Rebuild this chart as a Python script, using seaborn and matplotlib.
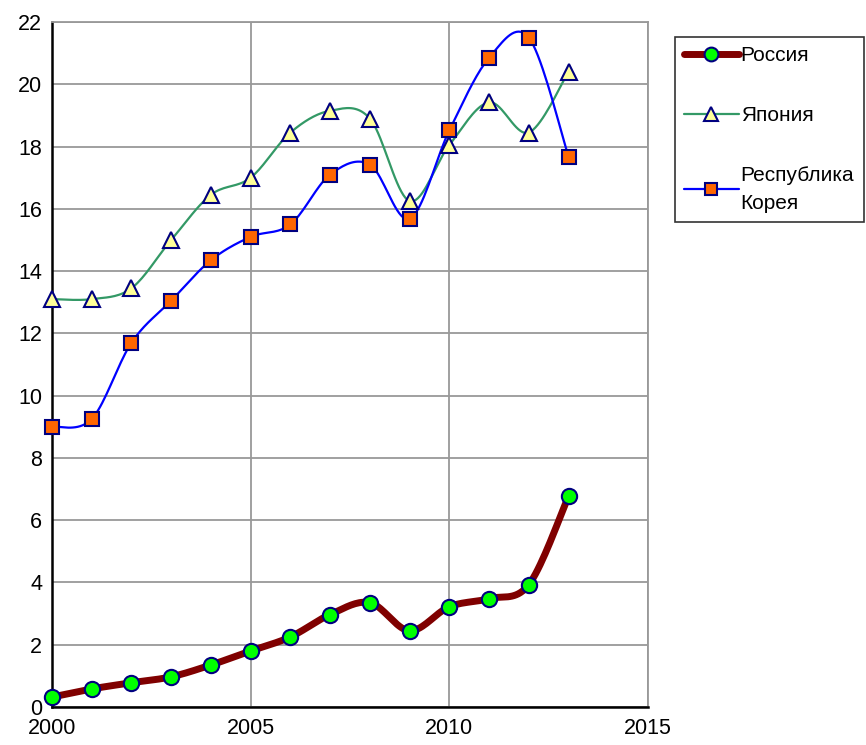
import numpy as np
import matplotlib
matplotlib.use("Agg")
import matplotlib.pyplot as plt
from matplotlib.lines import Line2D
import seaborn as sns

# data
years = [2000, 2001, 2002, 2003, 2004, 2005, 2006, 2007, 2008, 2009, 2010, 2011, 2012, 2013]
russia = [0.32, 0.58, 0.78, 0.97, 1.35, 1.80, 2.25, 2.97, 3.35, 2.45, 3.22, 3.48, 3.93, 6.77]
japan = [13.1, 13.1, 13.45, 15.0, 16.45, 17.0, 18.45, 19.15, 18.9, 16.25, 18.05, 19.42, 18.45, 20.4]
korea = [9.0, 9.25, 11.7, 13.05, 14.35, 15.1, 15.5, 17.1, 17.42, 15.68, 18.52, 20.85, 21.5, 17.68]
labels = ["Россия", "Япония", "Республика\nКорея"]

styles = [
    dict(color="#800000", lw=5, marker="o", mfc="#00ff00", ms=11),
    dict(color="#339966", lw=1.6, marker="^", mfc="#ffff99", ms=11),
    dict(color="#0000ff", lw=1.6, marker="s", mfc="#ff6600", ms=10),
]
edge = "#000080"


def smooth(x, y, n=20):
    """Excel-style smoothed line (Catmull-Rom Bezier) for drawing only"""
    x = np.asarray(x, float)
    y = np.asarray(y, float)
    px = np.concatenate([[x[0]], x, [x[-1]]])
    py = np.concatenate([[y[0]], y, [y[-1]]])
    xs, ys = [], []
    t = np.linspace(0, 1, n)
    for i in range(1, len(px) - 2):
        p0 = np.array([px[i], py[i]])
        p3 = np.array([px[i + 1], py[i + 1]])
        c1 = p0 + (np.array([px[i + 1], py[i + 1]]) - np.array([px[i - 1], py[i - 1]])) / 6
        c2 = p3 - (np.array([px[i + 2], py[i + 2]]) - np.array([px[i], py[i]])) / 6
        pts = (((1 - t) ** 3)[:, None] * p0 + (3 * (1 - t) ** 2 * t)[:, None] * c1
               + (3 * (1 - t) * t ** 2)[:, None] * c2 + (t ** 3)[:, None] * p3)
        xs.extend(pts[:, 0])
        ys.extend(pts[:, 1])
    return np.array(xs), np.array(ys)


sns.set_style("whitegrid")
plt.rcParams['font.family'] = ['Liberation Sans', 'DejaVu Sans']

fig = plt.figure(figsize=(8.66, 7.45), dpi=100)
ax = fig.add_axes([52 / 866, 38 / 745, 596 / 866, 685 / 745])

for series, st in zip([russia, japan, korea], styles):
    sx, sy = smooth(years, series)
    sns.lineplot(x=sx, y=sy, ax=ax, color=st["color"], linewidth=st["lw"],
                 sort=False, estimator=None, zorder=2)
    ax.plot(years, series, linestyle="none", marker=st["marker"],
            markersize=st["ms"], markerfacecolor=st["mfc"],
            markeredgecolor=edge, markeredgewidth=1.5, zorder=3, clip_on=False)

ax.set_xlim(2000, 2015)
ax.set_ylim(0, 22)
ax.set_xticks([2000, 2005, 2010, 2015])
ax.set_yticks(range(0, 23, 2))
ax.grid(True, color="#999999", linewidth=1.3)
ax.tick_params(axis="both", labelsize=15.5, length=5, width=1.2, direction="out",
               color="black", labelcolor="black", pad=2)
ax.tick_params(axis="x", pad=3)
for side in ["left", "bottom"]:
    ax.spines[side].set_color("black")
    ax.spines[side].set_linewidth(1.8)
for side in ["top", "right"]:
    ax.spines[side].set_color("#999999")
    ax.spines[side].set_linewidth(1.3)

handles = [Line2D([], [], color=st["color"], lw=st["lw"], marker=st["marker"],
                  markersize=st["ms"] * 0.9, markerfacecolor=st["mfc"],
                  markeredgecolor=edge, markeredgewidth=1.5) for st in styles]
leg = fig.legend(handles, labels, loc="upper left",
                 bbox_to_anchor=(675 / 866, 1 - 37 / 745), fontsize=15,
                 frameon=True, fancybox=False, shadow=False, handlelength=2.6,
                 handletextpad=0.1, labelspacing=1.95, borderpad=0.45,
                 borderaxespad=0)
for txt in leg.get_texts():
    txt.set_color("black")
    txt.set_linespacing(1.6)
leg.get_frame().set_edgecolor("black")
leg.get_frame().set_linewidth(1.2)

fig.savefig("out.png", dpi=100)
